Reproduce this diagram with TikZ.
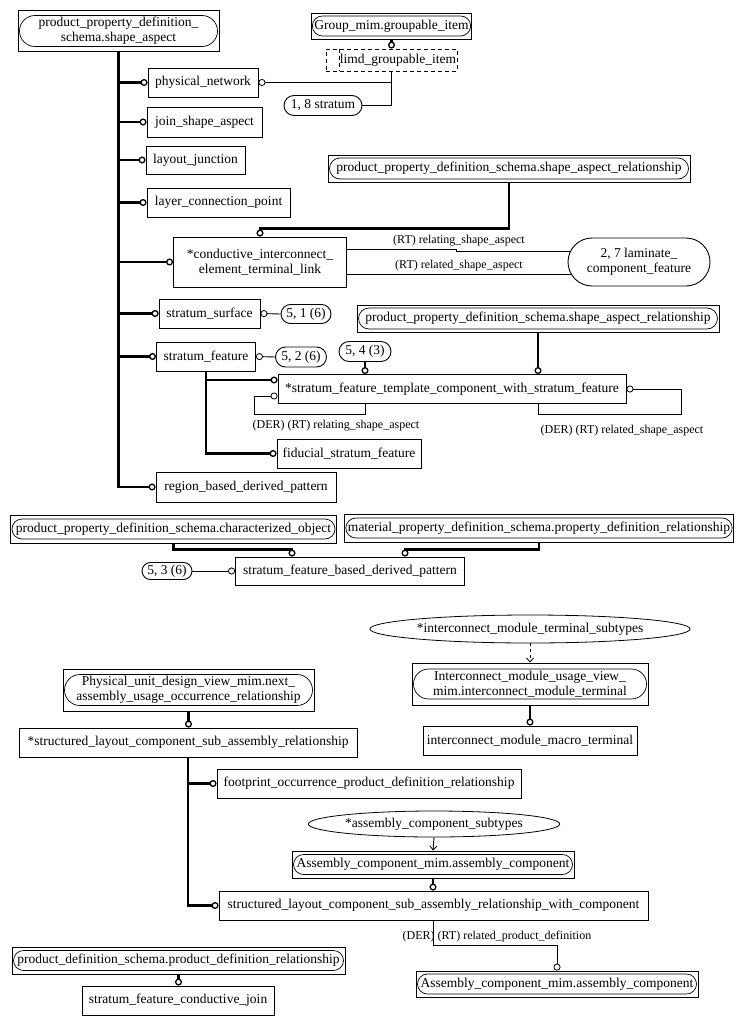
\documentclass[tikz,border=0pt]{standalone}
\usepackage{fontspec}
\setmainfont{Liberation Serif}
\usetikzlibrary{shapes.misc,shapes.geometric,arrows.meta}
\tikzset{
  every node/.style={font=\fontsize{13.5}{15}\selectfont},
  ent/.style={draw, line width=0.9pt, inner sep=0pt, align=center},
  inref/.style={draw, rounded rectangle, line width=0.7pt, inner sep=0pt, align=center},
  stad/.style={draw, rounded rectangle, line width=0.9pt, inner sep=0pt, align=center},
  ell/.style={draw, ellipse, line width=0.8pt, inner sep=0pt},
  lbl/.style={font=\fontsize{12}{14}\selectfont, inner sep=0pt},
  thk/.style={line width=2.7pt},
  thn/.style={line width=0.9pt},
  bcirc/.tip={Circle[open,length=7pt,width=7pt,line width=1.3pt]},
  tcirc/.tip={Circle[open,length=7pt,width=7pt,line width=0.8pt]},
  vtip/.tip={Straight Barb[length=4pt,width=7pt,line width=0.8pt]},
  seldash/.style={dash pattern=on 4pt off 3pt},
}
\begin{document}
\begin{tikzpicture}[x=1pt,y=-1pt]
\useasboundingbox (0,0) rectangle (743,1025);

% ---------- upper part ----------
\node[ent, minimum width=201pt, minimum height=41pt] (top) at (118.5,30.5) {};
\node[inref, minimum width=198pt, minimum height=31pt] (topi) at (118.5,31) {product\_property\_definition\_\\schema.shape\_aspect};

\node[ent, minimum width=160pt, minimum height=26pt] (grp) at (391.5,26) {};
\node[inref, minimum width=157pt, minimum height=20pt] (grpi) at (391.5,26) {Group\_mim.groupable\_item};

\node[ent, seldash, minimum width=131pt, minimum height=22pt] (limd) at (391.5,60) {\hspace*{13pt}limd\_groupable\_item};
\draw[line width=0.9pt, seldash] ([xshift=14pt]limd.north west) -- ([xshift=14pt]limd.south west);

\node[ent, minimum width=110pt, minimum height=29pt] (phys) at (203,82.5) {physical\_network};
\node[stad, minimum width=78pt, minimum height=20pt] (s18) at (323,105.5) {1, 8 stratum};
\node[ent, minimum width=115pt, minimum height=30pt] (jsa) at (204.5,122) {join\_shape\_aspect};
\node[ent, minimum width=99pt, minimum height=28pt] (lj) at (195.5,160) {layout\_junction};
\node[ent, minimum width=143pt, minimum height=29pt] (lcp) at (218.5,202.5) {layer\_connection\_point};

\node[ent, minimum width=362pt, minimum height=27pt] (A) at (509,168.5) {};
\node[inref, minimum width=359pt, minimum height=21pt] (Ai) at (509,168.5) {product\_property\_definition\_schema.shape\_aspect\_relationship};

\node[ent, minimum width=173pt, minimum height=50pt] (cond) at (260,262) {*conductive\_interconnect\_\\element\_terminal\_link};
\node[stad, minimum width=142pt, minimum height=48pt] (lam) at (639,262) {2, 7 laminate\_\\component\_feature};

\node[ent, minimum width=101pt, minimum height=29pt] (ss) at (209.5,313.5) {stratum\_surface};
\node[stad, minimum width=50pt, minimum height=19pt] (s51) at (306,314) {5, 1 (6)};
\node[ent, minimum width=99pt, minimum height=29pt] (sf) at (206,356.5) {stratum\_feature};
\node[stad, minimum width=51pt, minimum height=20pt] (s52) at (301,357) {5, 2 (6)};

\node[ent, minimum width=362pt, minimum height=27pt] (B) at (538,318.5) {};
\node[inref, minimum width=359pt, minimum height=21pt] (Bi) at (538,318.5) {product\_property\_definition\_schema.shape\_aspect\_relationship};
\node[stad, minimum width=52pt, minimum height=20pt] (s54) at (365,351.5) {5, 4 (3)};
\node[ent, minimum width=348pt, minimum height=29pt] (stf) at (452,389) {*stratum\_feature\_template\_component\_with\_stratum\_feature};
\node[ent, minimum width=144pt, minimum height=29pt] (fid) at (349,453.5) {fiducial\_stratum\_feature};
\node[ent, minimum width=180pt, minimum height=30pt] (rbdp) at (246,487) {region\_based\_derived\_pattern};

% trunk and branches
\draw[thk,-bcirc] (top.south) |- (rbdp.west);
\foreach \n in {phys,jsa,lj,lcp,cond,ss,sf}
  \draw[thk,-bcirc] (top.south |- \n.west) -- (\n.west);

\draw[thk,-bcirc] (grp.south) -- (limd.north);
\draw[thn,tcirc-] (phys.east) -- (phys.east -| limd.south);
\draw[thn] (limd.south) |- (s18.east);

\draw[thk,-bcirc] (A.south) -- ++(0,46) -| (cond.north);
\draw[thn] ([yshift=13pt]cond.east) -- (456,249) -- (456,251) -- ([xshift=3pt]lam.west |- 0,251);
\draw[thn] ([yshift=-12pt]cond.east) -- ([yshift=-12pt,xshift=3pt]lam.west);
\node[lbl] (lrel) at (459,241) {(RT) relating\_shape\_aspect};
\node[lbl] (lreld) at (459,266) {(RT) related\_shape\_aspect};

\draw[thn,tcirc-] (ss.east) -- (s51.west);
\draw[thn,tcirc-] (sf.east) -- (s52.west);

\draw[thk,-bcirc] (B.south) -- (B.south |- stf.north);
\draw[thk,-bcirc] (s54.south) -- (s54.south |- stf.north);
\draw[thk,-bcirc] (sf.south) |- (fid.west);
\draw[thk,-bcirc] (sf.south |- 0,380) -- ([yshift=9pt]stf.west);

\draw[thn,-tcirc] (s54.south |- stf.south) -- ++(0,10) -| (254,396) -- ([yshift=-7pt]stf.west);
\draw[thn,-tcirc] (B.south |- stf.south) -- ++(0,10) -| (681,389) -- (stf.east);
\node[lbl] (ldr1) at (336,426) {(DER) (RT) relating\_shape\_aspect};
\node[lbl] (ldr2) at (622,431) {(DER) (RT) related\_shape\_aspect};

% ---------- middle ----------
\node[ent, minimum width=326pt, minimum height=28pt] (co) at (173.5,529) {};
\node[inref, minimum width=323pt, minimum height=20pt] (coi) at (173.5,529) {product\_property\_definition\_schema.characterized\_object};
\node[ent, minimum width=389pt, minimum height=28pt] (mpds) at (539,528) {};
\node[inref, minimum width=386pt, minimum height=20pt] (mpdsi) at (539,528) {material\_property\_definition\_schema.property\_definition\_relationship};
\node[ent, minimum width=229pt, minimum height=28pt] (sfbdp) at (350,571) {stratum\_feature\_based\_derived\_pattern};
\node[stad, minimum width=50pt, minimum height=17pt] (s53) at (167,571) {5, 3 (6)};

\draw[thk,-bcirc] (co.south) -- ++(0,6) -| ([xshift=-58pt]sfbdp.north);
\draw[thk,-bcirc] (mpds.south) -- ++(0,7) -| ([xshift=55pt]sfbdp.north);
\draw[thn,-tcirc] (s53.east) -- (sfbdp.west);

% ---------- lower part ----------
\node[ell, minimum width=311pt, minimum height=28pt] (imts) at (530,629) {*interconnect\_module\_terminal\_subtypes};
\node[ent, minimum width=236pt, minimum height=42pt] (IMUV) at (530,684) {};
\node[inref, minimum width=233pt, minimum height=30pt] (IMUVi) at (530,684) {Interconnect\_module\_usage\_view\_\\mim.interconnect\_module\_terminal};
\node[ent, minimum width=214pt, minimum height=29pt] (macro) at (530,740.5) {interconnect\_module\_macro\_terminal};
\draw[thn,dashed,-vtip] (imts.south) -- (IMUV.north);
\draw[thk,-bcirc] (IMUV.south) -- (macro.north);

\node[ent, minimum width=251pt, minimum height=42pt] (PUDV) at (188.5,690) {};
\node[inref, minimum width=248pt, minimum height=31pt] (PUDVi) at (188.5,690) {Physical\_unit\_design\_view\_mim.next\_\\assembly\_usage\_occurrence\_relationship};
\node[ent, minimum width=338pt, minimum height=29pt] (slc) at (188,742.5) {*structured\_layout\_component\_sub\_assembly\_relationship};
\draw[thk,-bcirc] (PUDV.south) -- (PUDV.south |- slc.north);

\node[ent, minimum width=304pt, minimum height=29pt] (foot) at (369,783.5) {footprint\_occurrence\_product\_definition\_relationship};
\node[ell, minimum width=249pt, minimum height=26pt] (acs) at (434,824) {*assembly\_component\_subtypes};
\node[ent, minimum width=282pt, minimum height=27pt] (AC1) at (433,864.5) {};
\node[inref, minimum width=279pt, minimum height=20pt] (AC1i) at (433,864.5) {Assembly\_component\_mim.assembly\_component};
\node[ent, minimum width=429pt, minimum height=29pt] (swc) at (433.5,905.5) {structured\_layout\_component\_sub\_assembly\_relationship\_with\_component};

\draw[thk,-bcirc] (slc.south) |- (swc.west);
\draw[thk,-bcirc] (slc.south |- foot.west) -- (foot.west);
\draw[thn,-vtip] (acs.south) -- (AC1.north);
\draw[thk,-bcirc] (AC1.south) -- (AC1.south |- swc.north);

\node[ent, minimum width=282pt, minimum height=26pt] (AC2) at (557,984) {};
\node[inref, minimum width=279pt, minimum height=20pt] (AC2i) at (557,984) {Assembly\_component\_mim.assembly\_component};
\draw[thn,-tcirc] (swc.south) -- ++(0,25) -| (AC2.north);
\node[lbl] (lrpd) at (497,937) {(DER) (RT) related\_product\_definition};

\node[ent, minimum width=333pt, minimum height=27pt] (pdr) at (178.5,960.5) {};
\node[inref, minimum width=330pt, minimum height=20pt] (pdri) at (178.5,960.5) {product\_definition\_schema.product\_definition\_relationship};
\node[ent, minimum width=192pt, minimum height=29pt] (sfcj) at (178,1000.5) {stratum\_feature\_conductive\_join};
\draw[thk,-bcirc] (pdr.south) -- (pdr.south |- sfcj.north);
\end{tikzpicture}
\end{document}
